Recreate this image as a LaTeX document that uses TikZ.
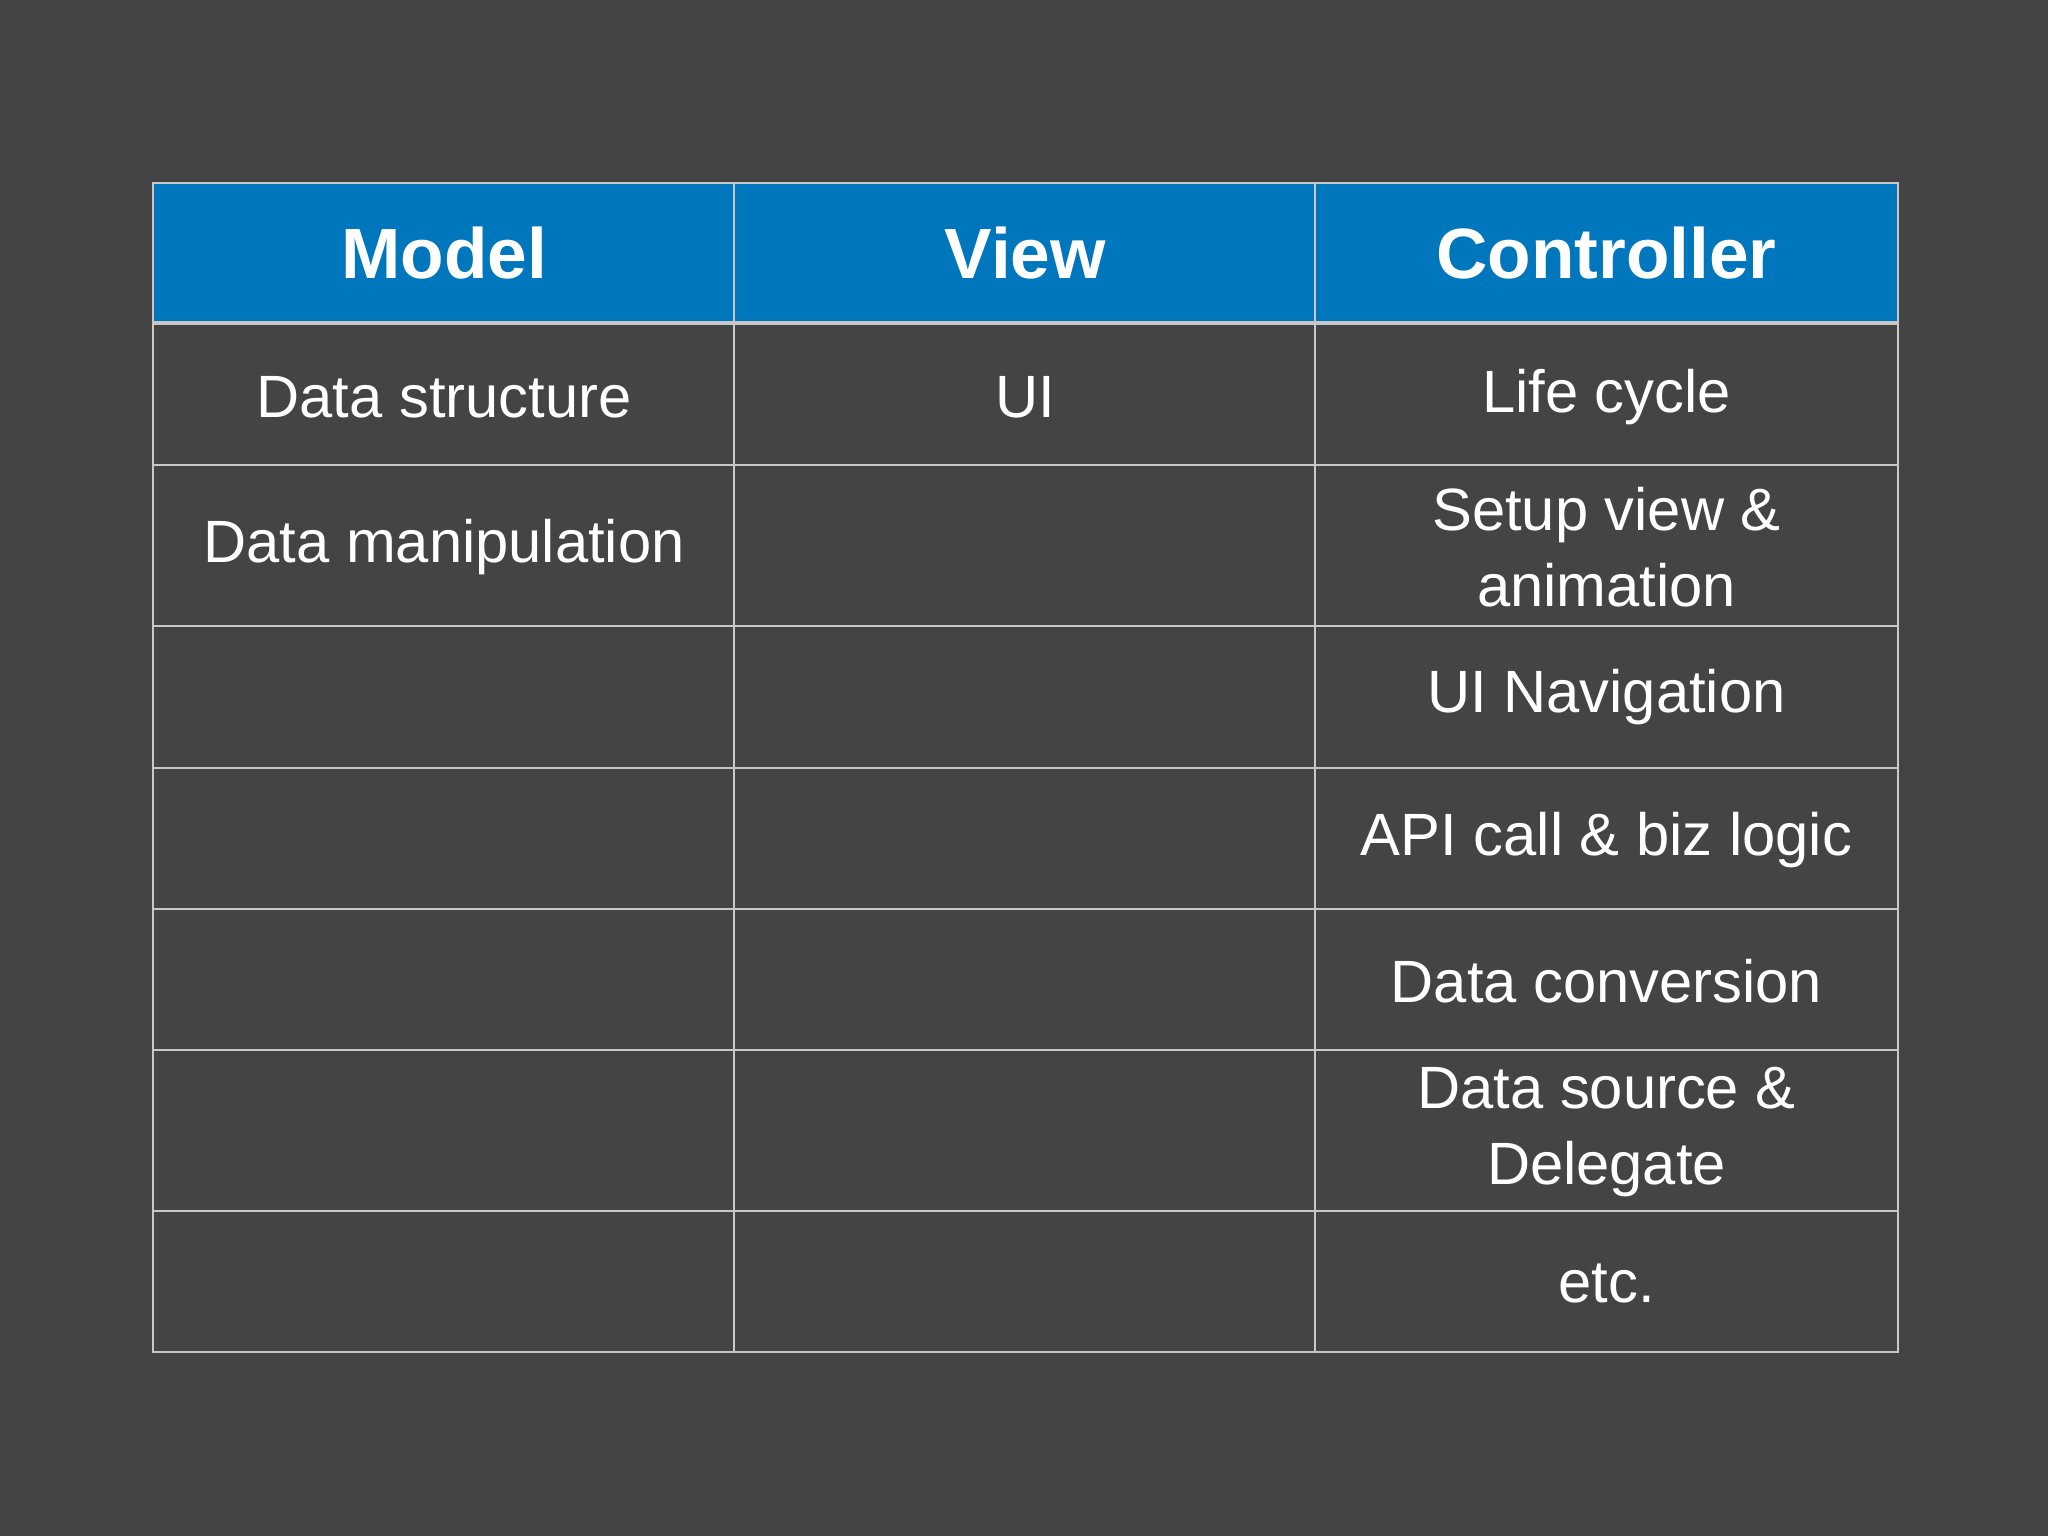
\documentclass[tikz,border=0pt]{standalone}
\usepackage{fontspec}
\setmainfont{Liberation Sans}
\definecolor{bg}{HTML}{444444}
\definecolor{hdr}{HTML}{0077BD}
\definecolor{grid}{HTML}{C8C8C8}
\begin{document}
\begin{tikzpicture}[x=0.01cm,y=-0.01cm,
  hd/.style={text=white,font=\fontsize{15.5}{18}\selectfont\bfseries,align=center},
  cell/.style={text=white,font=\fontsize{13}{16.5}\selectfont,align=center}]
\fill[bg] (0,0) rectangle (1568,1176);
\useasboundingbox (0,0) rectangle (1568,1176);
\fill[hdr] (117,140) rectangle (1453,248);
% grid
\foreach \y in {248,356,479,588,696,804,927}
  \draw[grid,line width=0.4pt] (117,\y) -- (1453,\y);
\draw[grid,line width=0.6pt] (117,247) -- (1453,247);
\foreach \x in {562,1007}
  \draw[grid,line width=0.4pt] (\x,140) -- (\x,1035);
\draw[grid,line width=0.4pt] (117,140) rectangle (1453,1035);
% header
\node[hd] (m) at (340,194) {Model};
\node[hd] (v) at (785,194) {View};
\node[hd] (c) at (1230,194) {Controller};
% cells
\node[cell] (m1) at (340,304) {Data structure};
\node[cell] (v1) at (785,304) {UI};
\node[cell] (c1) at (1230,304) {Life cycle};
\node[cell] (m2) at (340,419) {Data manipulation};
\node[cell] (c2) at (1230,419) {Setup view \&\\animation};
\node[cell] (c3) at (1230,534) {UI Navigation};
\node[cell] (c4) at (1230,643) {API call \& biz logic};
\node[cell] (c5) at (1230,751) {Data conversion};
\node[cell] (c6) at (1230,867) {Data source \&\\Delegate};
\node[cell] (c7) at (1230,983) {etc.};
\end{tikzpicture}
\end{document}
